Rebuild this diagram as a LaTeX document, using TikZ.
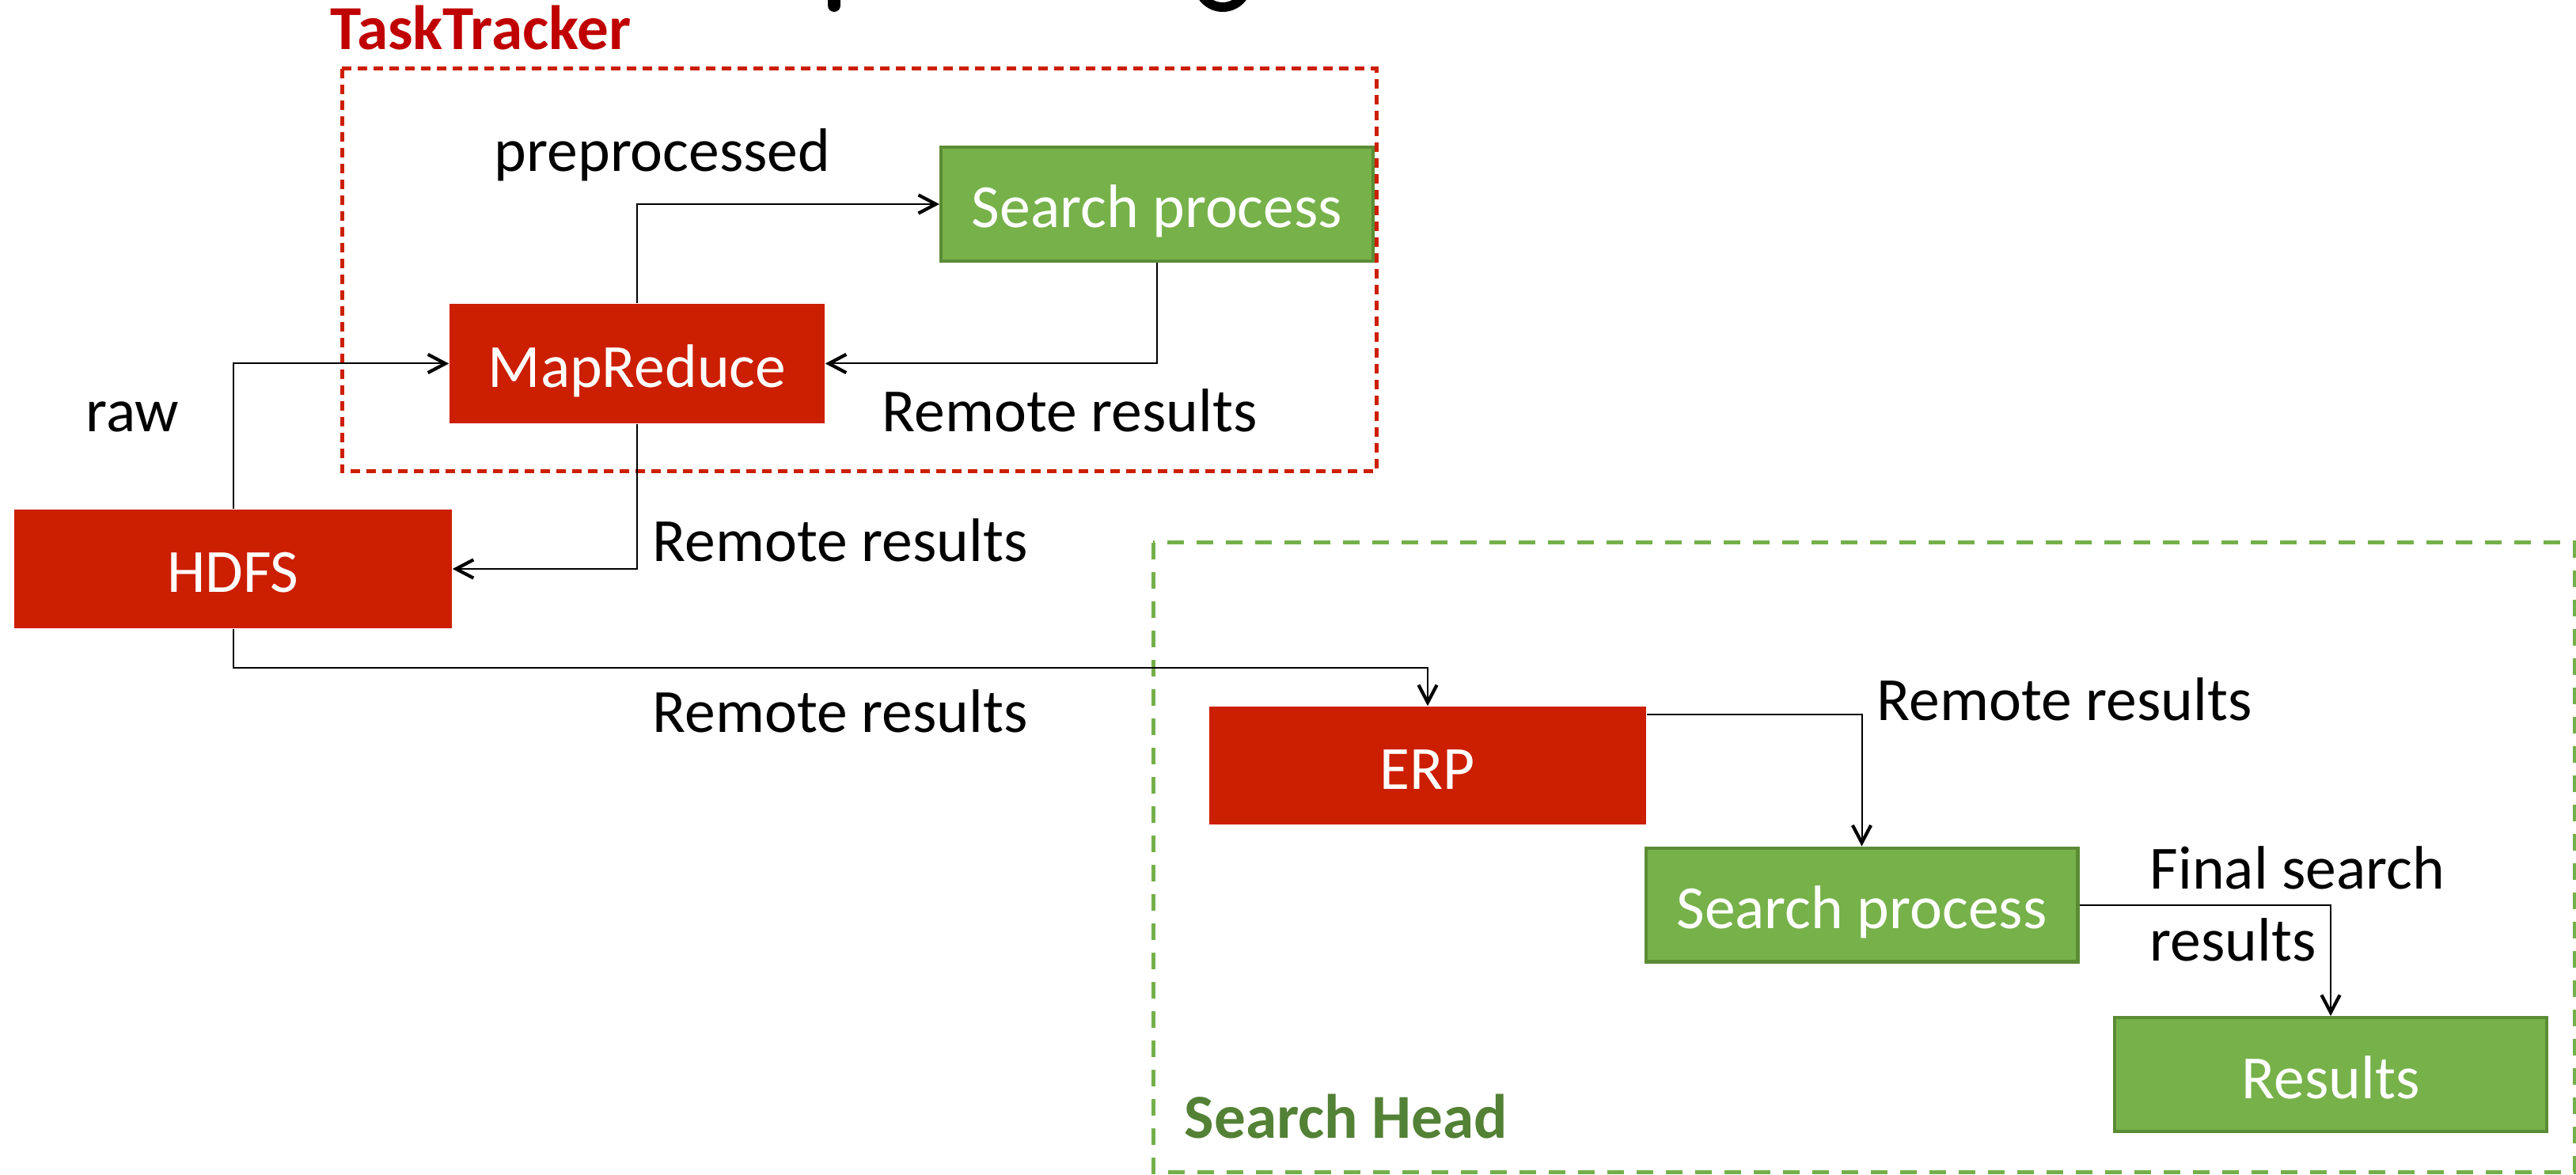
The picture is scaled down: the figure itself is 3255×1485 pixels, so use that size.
\documentclass[tikz,border=0pt]{standalone}
\usepackage{fontspec}
\setmainfont{Carlito}
\usetikzlibrary{arrows.meta,calc}

\definecolor{boxred}{HTML}{CC1E00}
\definecolor{boxgreen}{HTML}{76B14A}
\definecolor{greenline}{HTML}{5B8C35}
\definecolor{ttred}{HTML}{C00000}
\definecolor{shgreen}{HTML}{538135}
\definecolor{framegreen}{HTML}{74B04A}

\begin{document}
\begin{tikzpicture}[x=0.25pt,y=-0.25pt,
  every node/.append style={font=\fontsize{19.4pt}{23pt}\selectfont},
  redbox/.style={fill=boxred, text=white, inner sep=0pt,
    text height=15pt, text depth=0pt},
  greenbox/.style={fill=boxgreen, draw=greenline, line width=1.1pt,
    text=white, inner sep=0pt, text height=15pt, text depth=0pt,
    minimum width=136.4pt, minimum height=35.9pt},
  lbl/.style={inner sep=0pt, anchor=base west},
  grouptitle/.style={lbl, font=\fontsize{19.8pt}{23pt}\selectfont\bfseries},
  flow/.style={draw, line width=0.5pt,
    -{Straight Barb[length=5.5pt,width=5.8pt,line width=1.05pt]}},
  frame/.style={line width=1.25pt}]

% page
\fill[white] (0,0) rectangle (3255,1485);
\useasboundingbox (0,0) rectangle (3255,1485);

% bottoms of the heading glyphs, cut by the page edge
\begin{scope}
  \clip (0,0) rectangle (3255,1485);
  \draw[line width=4pt, line cap=round] (1054,-30) -- (1054,7);
  \draw[line width=3pt] (1545,-22) ellipse [x radius=7.75pt, y radius=7.75pt];
\end{scope}

% blocks
\node[redbox, minimum width=138.25pt, minimum height=37.5pt] (hdfs) at (294.5,719) {HDFS};
\node[redbox, minimum width=118.5pt, minimum height=37.75pt] (mr) at (805,459.5) {MapReduce};
\node[greenbox] (sp1) at (1462,258) {Search process};
\node[redbox, minimum width=138pt, minimum height=37.25pt] (erp) at (1804,967.5) {ERP};
\node[greenbox] (sp2) at (2352.5,1143.5) {Search process};
\node[greenbox] (res) at (2945,1358) {Results};

% group frames and their titles
\draw[frame, boxred, dash pattern=on 3pt off 2pt] (432,87) rectangle (1739,596);
\draw[frame, framegreen, dash pattern=on 5.25pt off 4pt] (1457,686) rectangle (3253,1481);
\node[grouptitle, text=ttred] (tt) at (417,63) {TaskTracker};
\node[grouptitle, text=shgreen] (sh) at (1496,1438) {Search Head};

% connector labels
\node[lbl] (lpre) at (624,217) {preprocessed};
\node[lbl] (lrr1) at (1114,546) {Remote results};
\node[lbl] (lraw) at (108,546) {raw};
\node[lbl] (lrr2) at (824,710) {Remote results};
\node[lbl] (lrr3) at (824,926) {Remote results};
\node[lbl] (lrr4) at (2371,911) {Remote results};
\node[lbl] (lfs1) at (2716,1123) {Final search};
\node[lbl] (lfs2) at (2716,1214) {results};

% connectors
\coordinate (hbend) at (294.5,844);
\coordinate (erpout) at ($(erp.north east)+(0,11)$);
\draw[flow] (hdfs.north) |- (mr.west);
\draw[flow] (mr.north) |- (sp1.west);
\draw[flow] (sp1.south) |- (mr.east);
\draw[flow] (mr.south) |- (hdfs.east);
\draw[flow] (hdfs.south) -- (hbend) -| (erp.north);
\draw[flow] (erpout) -| (sp2.north);
\draw[flow] (sp2.east) -| (res.north);
\end{tikzpicture}
\end{document}
